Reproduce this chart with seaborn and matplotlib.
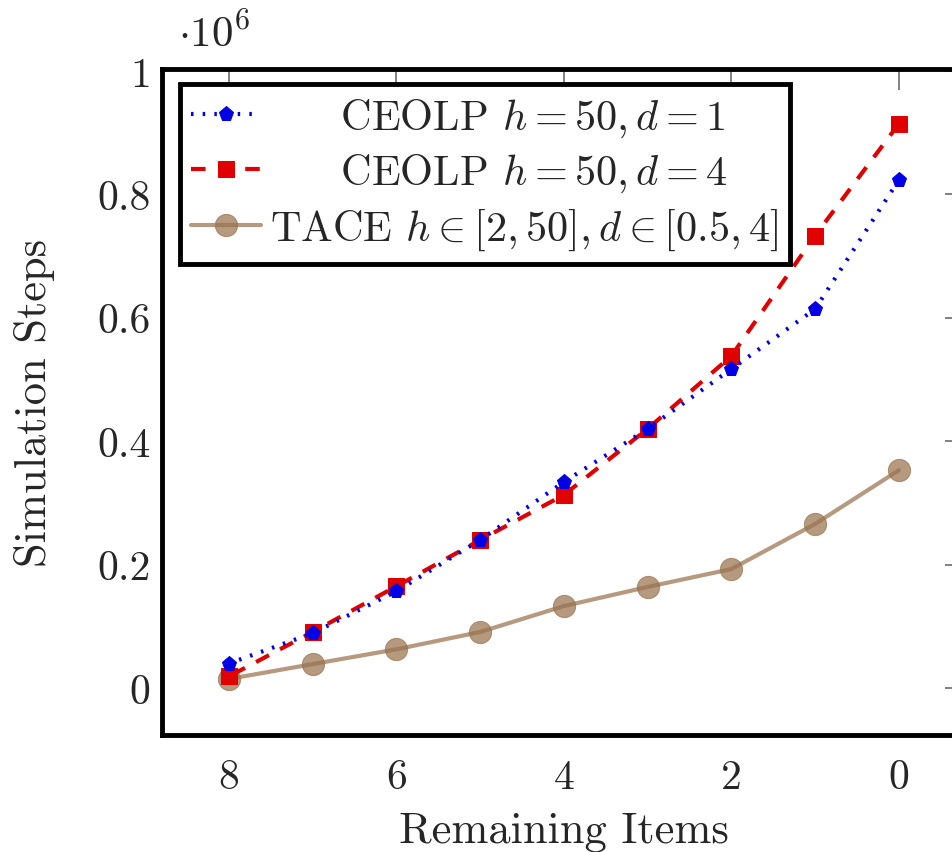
import numpy as np
import pandas as pd
import matplotlib
matplotlib.use("Agg")
import matplotlib.pyplot as plt
import seaborn as sns

# remaining items on the x axis
remaining = [8, 7, 6, 5, 4, 3, 2, 1, 0]

# simulation steps, in units of 10^6
ceolp_d1 = [0.040, 0.089, 0.157, 0.240, 0.334, 0.420, 0.517, 0.614, 0.823]
ceolp_d4 = [0.019, 0.091, 0.165, 0.240, 0.313, 0.420, 0.538, 0.733, 0.914]
tace = [0.015, 0.039, 0.063, 0.091, 0.133, 0.164, 0.193, 0.266, 0.353]

labels = [
    "     CEOLP $h = 50, d = 1$",
    "     CEOLP $h = 50, d = 4$",
    "TACE $h \\in [2, 50], d \\in [0.5, 4]$",
]

y_ticks = [0, 0.2, 0.4, 0.6, 0.8, 1]
x_ticks = [8, 6, 4, 2, 0]

sns.set_style("white")
plt.rcParams["font.family"] = ["cmr10", "DejaVu Serif"]
plt.rcParams["mathtext.fontset"] = "cm"
plt.rcParams["axes.formatter.use_mathtext"] = True

fig = plt.figure(figsize=(9.52, 8.53), dpi=100)
ax = fig.add_axes([0.170, 0.137, 0.8445, 0.781])

df1 = pd.DataFrame({"x": remaining, "y": ceolp_d1})
df2 = pd.DataFrame({"x": remaining, "y": ceolp_d4})
df3 = pd.DataFrame({"x": remaining, "y": tace})

brown = (0.60, 0.45, 0.31)

sns.lineplot(data=df1, x="x", y="y", ax=ax, color="#0000e6", linestyle=(0, (0.6, 2.2)),
             linewidth=3, marker="p", markersize=11, markeredgecolor="#0000e6",
             label=labels[0], zorder=3)
sns.lineplot(data=df2, x="x", y="y", ax=ax, color="#e00000", linestyle=(0, (3.5, 3)),
             linewidth=3, marker="s", markersize=12, markeredgecolor="#e00000",
             label=labels[1], zorder=2)
sns.lineplot(data=df3, x="x", y="y", ax=ax, color=brown, linestyle="-", alpha=0.72,
             linewidth=3, marker="o", markersize=16, markeredgecolor=brown,
             label=labels[2], zorder=1)

ax.set_xlim(8.8, -0.8)
ax.set_ylim(-0.076, 1.003)
ax.set_xticks(x_ticks)
ax.set_xticklabels([str(t) for t in x_ticks])
ax.set_yticks(y_ticks)
ax.set_yticklabels([("%g" % t) for t in y_ticks])

ax.tick_params(axis="both", direction="in", length=15, width=1.3, color="#777777",
               top=True, right=True, labelsize=30)
ax.tick_params(axis="x", pad=17)
ax.tick_params(axis="y", pad=8)
for s in ax.spines.values():
    s.set_linewidth(3.5)
    s.set_color("black")

ax.set_xlabel("Remaining Items", fontsize=32, va="baseline")
ax.xaxis.set_label_coords(0.5, -0.159)
ax.set_ylabel("Simulation Steps", fontsize=32, va="center")
ax.yaxis.set_label_coords(-0.158, 0.5)

ax.text(0.02, 1.022, "$\\cdot 10^6$", transform=ax.transAxes, fontsize=31,
        ha="left", va="bottom")

leg = ax.legend(loc="upper left", bbox_to_anchor=(0.022, 0.977), borderaxespad=0,
                frameon=True, fancybox=False, framealpha=1, edgecolor="black",
                handlelength=1.65, handletextpad=0.2, labelspacing=0.3,
                borderpad=0.28, fontsize=30.5)
leg.get_frame().set_linewidth(3.5)

fig.savefig("out.png", dpi=100)
